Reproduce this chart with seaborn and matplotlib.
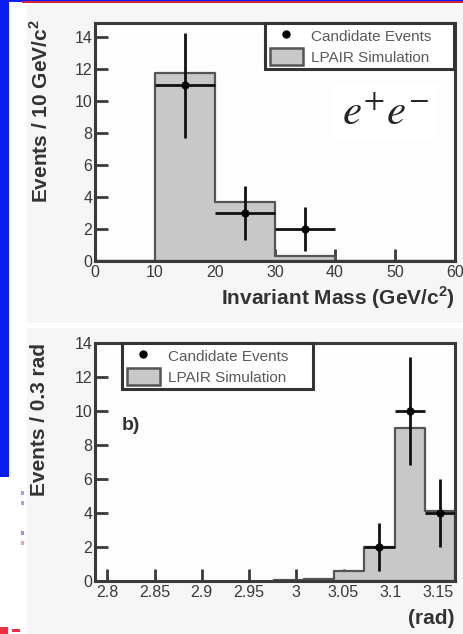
import numpy as np
import pandas as pd
import matplotlib
matplotlib.use("Agg")
import matplotlib.pyplot as plt
import seaborn as sns
from matplotlib.patches import Rectangle, Patch
from matplotlib.lines import Line2D

# ---------------- data ----------------
# top panel: invariant mass
mass_edges = [0, 10, 20, 30, 40, 50, 60]
mass_sim = [0.0, 11.8, 3.7, 0.3, 0.0, 0.0]
mass_pts_x = [15, 25, 35]
mass_pts_y = [11, 3, 2]
mass_pts_err = [3.3, 1.7, 1.4]
mass_xticks = [0, 10, 20, 30, 40, 50, 60]
mass_yticks = [0, 2, 4, 6, 8, 10, 12, 14]

# bottom panel: acoplanarity angle
ang_edges = [2.976, 3.008, 3.040, 3.072, 3.104, 3.136, 3.168]
ang_sim = [0.05, 0.1, 0.6, 2.0, 9.0, 4.1]
ang_pts_x = [3.088, 3.120, 3.152]
ang_pts_y = [2, 10, 4]
ang_pts_err = [1.4, 3.2, 2.0]
ang_xticks = [2.8, 2.85, 2.9, 2.95, 3.0, 3.05, 3.1, 3.15]
ang_xticklabels = ["2.8", "2.85", "2.9", "2.95", "3", "3.05", "3.1", "3.15"]
ang_yticks = [0, 2, 4, 6, 8, 10, 12, 14]

legend_labels = ["Candidate Events", "LPAIR Simulation"]

# ---------------- style ----------------
sns.set_style("ticks")
plt.rcParams["font.family"] = ["Liberation Sans", "DejaVu Sans"]
plt.rcParams["mathtext.fontset"] = "custom"
plt.rcParams["mathtext.rm"] = "Liberation Sans"
plt.rcParams["mathtext.bf"] = "Liberation Sans:bold"

W, H = 464, 634
fig = plt.figure(figsize=(W / 100, H / 100), dpi=100)
fig.patch.set_facecolor("white")

def frect(x0, y0, x1, y1, color):
    fig.patches.append(Rectangle((x0 / W, 1 - y1 / H), (x1 - x0) / W, (y1 - y0) / H,
                                 transform=fig.transFigure, facecolor=color,
                                 edgecolor="none", zorder=-10))

panel = "#f6f6f6"
frect(27, 4, W, 323, panel)
frect(27, 328, W, H, panel)
frect(0, 0, 9, 477, "#0a1ef2")
frect(0, 0, W, 1.5, "#0a1ef2")
frect(22, 1.2, W, 3.2, "#d8203a")
# stray marks at lower left
for yy, c in [(493, "#9aa0f5"), (503, "#9aa0f5"), (533, "#8f95f5"), (543, "#f5a0a0")]:
    frect(21, yy - 2, 24, yy + 2, c)
frect(0, 627, 8, 634, "#f03040")
frect(12, 629, 20, 632, "#f03040")

edge_dark = "#3a3a3a"
fill_gray = "#c8c8c8"
tick_col = "#3a3a3a"


def style_axes(ax):
    ax.set_facecolor("#fdfdfd")
    for s in ax.spines.values():
        s.set_linewidth(2.2)
        s.set_color(edge_dark)
    ax.tick_params(direction="in", length=9, width=2, color=edge_dark,
                   labelsize=11.5, labelcolor=tick_col)
    ax.tick_params(axis="x", pad=3)
    ax.tick_params(axis="y", pad=2)


def draw_panel(ax, edges, sim, px, py, perr, xerr):
    centers = [(a + b) / 2 for a, b in zip(edges[:-1], edges[1:])]
    df = pd.DataFrame({"x": centers, "w": sim})
    sns.histplot(data=df, x="x", weights="w", bins=edges, element="step",
                 fill=True, color=fill_gray, edgecolor="#555555", linewidth=1.6,
                 alpha=1, ax=ax, zorder=2)
    pts = pd.DataFrame({"x": px, "y": py})
    ax.errorbar(px, py, yerr=perr, xerr=xerr, fmt="none", ecolor="#111111",
                elinewidth=2, capsize=0, zorder=4)
    sns.scatterplot(data=pts, x="x", y="y", color="black", s=30,
                    edgecolor="black", ax=ax, zorder=5)
    ax.set_xlabel("")
    ax.set_ylabel("")


def make_legend(ax, box):
    handles = [Line2D([], [], marker="o", color="black", linestyle="none", markersize=5),
               Patch(facecolor=fill_gray, edgecolor="#555555", linewidth=1.8)]
    leg = ax.legend(handles, legend_labels, loc="upper left", bbox_to_anchor=box,
                    mode="expand", fancybox=False, framealpha=1, edgecolor="#333333",
                    fontsize=11, handlelength=2.2, handleheight=1.25,
                    borderpad=0.3, labelspacing=0.3, handletextpad=0.5,
                    borderaxespad=0)
    leg.get_frame().set_linewidth(2.2)
    for t in leg.get_texts():
        t.set_color("#5a5a5a")
    leg.set_zorder(10)
    return leg


# ---------------- top panel ----------------
ax1 = fig.add_axes([95 / W, 1 - 261 / H, 360 / W, 238 / H])
style_axes(ax1)
draw_panel(ax1, mass_edges, mass_sim, mass_pts_x, mass_pts_y, mass_pts_err, 5)
ax1.set_xlim(0, 60)
ax1.set_ylim(0, 14.9)
ax1.set_xticks(mass_xticks)
ax1.set_yticks(mass_yticks)
make_legend(ax1, (0.472, 0.798, 0.525, 0.202))
ax1.text(0.808, 0.62, r"$e^{+}e^{-}$", transform=ax1.transAxes, ha="center",
         va="center", fontsize=31, math_fontfamily="stix", zorder=6,
         bbox=dict(facecolor="white", edgecolor="none", boxstyle="square,pad=0.2"))

fig.text(40 / W, 1 - 111 / H, "Events / 10 GeV/c$^{\\mathbf{2}}$", rotation=90,
         ha="center", va="center", fontsize=15, fontweight="bold", color="#333333")
fig.text(455 / W, 1 - 298 / H, "Invariant Mass (GeV/c$^{\\mathbf{2}}$)", ha="right",
         va="center", fontsize=15, fontweight="bold", color="#333333")

# ---------------- bottom panel ----------------
ax2 = fig.add_axes([95 / W, 1 - 581 / H, 360 / W, 238 / H])
style_axes(ax2)
draw_panel(ax2, ang_edges, ang_sim, ang_pts_x, ang_pts_y, ang_pts_err, 0.016)
ax2.set_xlim(2.787, 3.168)
ax2.set_ylim(0, 14)
ax2.set_xticks(ang_xticks)
ax2.set_xticklabels(ang_xticklabels)
ax2.set_yticks(ang_yticks)
make_legend(ax2, (0.075, 0.798, 0.531, 0.202))
ax2.text(0.075, 0.655, "b)", transform=ax2.transAxes, ha="left", va="center",
         fontsize=14, fontweight="bold", color="#333333")

fig.text(40 / W, 1 - 419 / H, "Events / 0.3 rad", rotation=90,
         ha="center", va="center", fontsize=15, fontweight="bold", color="#333333")
fig.text(455 / W, 1 - 619 / H, "(rad)", ha="right", va="center",
         fontsize=15, fontweight="bold", color="#333333")

fig.savefig("out.png", dpi=100)
